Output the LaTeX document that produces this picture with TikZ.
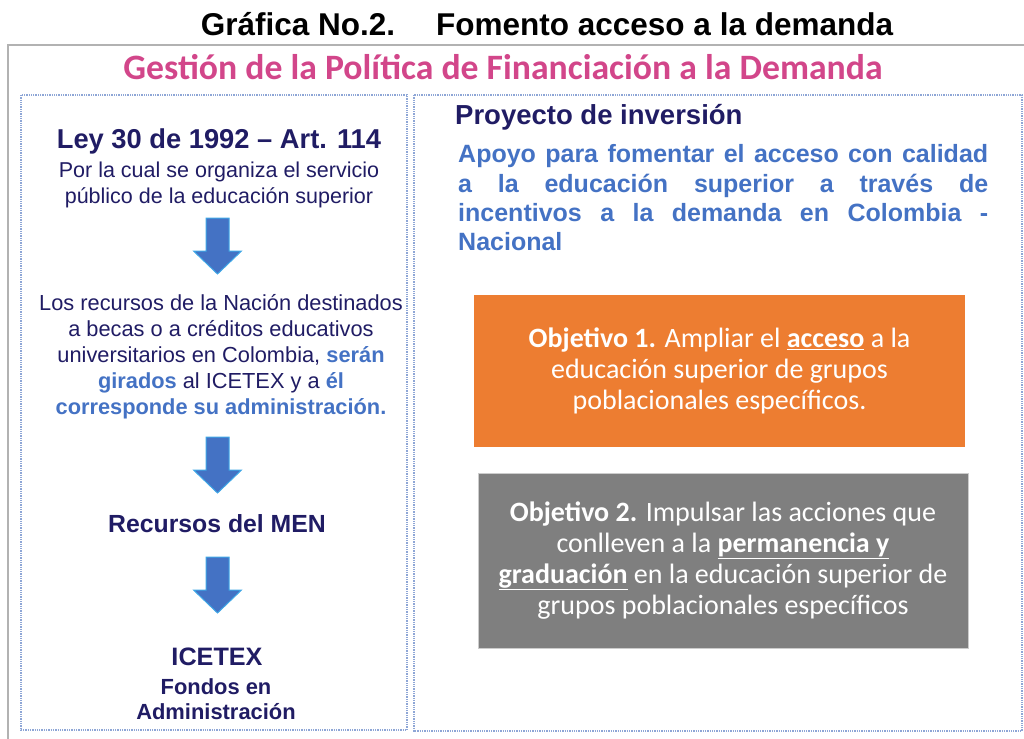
\documentclass[tikz,border=0pt]{standalone}
\usepackage{fontspec}
\setmainfont{Liberation Sans}
\newfontfamily\calibri{Carlito}
\usetikzlibrary{positioning}

\definecolor{navy}{HTML}{201C64}
\definecolor{azul}{HTML}{4472C4}
\definecolor{rosa}{HTML}{D2468A}
\definecolor{naranja}{HTML}{ED7D31}
\definecolor{gris}{HTML}{7F7F7F}
\definecolor{punteado}{HTML}{8EA6D6}
\definecolor{borde}{HTML}{3EA7E6}

% flecha de bloque, #1 = punto superior central
\newcommand{\flecha}[1]{\filldraw[bloque] (#1) ++(-11.5,0) -- ++(23,0) -- ++(0,33) -- ++(12.5,0) -- ++(-24,23) -- ++(-24,-23) -- ++(12.5,0) -- cycle;}

\begin{document}
\begin{tikzpicture}[x=1pt,y=-1pt,
		caja/.style={draw=punteado,densely dotted,line width=1.3pt},
		bloque/.style={fill=azul,draw=borde,line width=1pt},
		txt/.style={inner sep=0pt,align=center,text=navy},
		obj/.style={inner sep=0pt,align=center,text=white,font=\calibri\fontsize{28}{30.8}\selectfont}]
		\useasboundingbox (0,0) rectangle (1024,738);
		% marco exterior
		\draw[gray!60,line width=2.5pt] (8,760) -- (8,45) -- (1040,45);
		\node[inner sep=0pt,font=\bfseries\fontsize{31.5}{34}\selectfont] (titulo) at (547,24) {Gráfica No.2.\hspace{1.3em}Fomento acceso a la demanda};
		\node[inner sep=0pt,text=rosa,font=\calibri\bfseries\fontsize{35.7}{40}\selectfont] (gestion) at (503,67) {Gestión de la Política de Financiación a la Demanda};
		\draw[caja] (21,95) rectangle (407,730);
		\draw[caja] (414,95) rectangle (1022,731);
		% columna izquierda
		\node[txt,font=\bfseries\fontsize{27.3}{30}\selectfont] (ley) at (219,141) {Ley 30 de 1992 -- Art. 114};
		\node[txt,font=\fontsize{21.5}{25.5}\selectfont] (organiza) at (219,185) {Por la cual se organiza el servicio\\público de la educación superior};
		\coordinate (a1) at (217.5,218);
		\node[txt,font=\fontsize{21.8}{26}\selectfont] (recursos) at (221,357) {Los recursos de la Nación destinados\\a becas o a créditos educativos\\universitarios en Colombia, \textcolor{azul}{\textbf{serán}}\\\textcolor{azul}{\textbf{girados}} al ICETEX y a \textcolor{azul}{\textbf{él}}\\\textcolor{azul}{\textbf{corresponde su administración.}}};
		\coordinate (a2) at (217.5,437);
		\node[txt,font=\bfseries\fontsize{24.8}{28}\selectfont] (men) at (217,524) {Recursos del MEN};
		\coordinate (a3) at (217.5,557);
		\node[txt,font=\bfseries\fontsize{25.2}{28}\selectfont] (icetex) at (217,657) {ICETEX};
		\node[txt,font=\bfseries\fontsize{21.9}{25.5}\selectfont] (fondos) at (216,699) {Fondos en\\Administración};
		\flecha{a1}
		\flecha{a2}
		\flecha{a3}
		% columna derecha
		\node[txt,anchor=west,font=\bfseries\fontsize{27.5}{30}\selectfont] (proyecto) at (455,117) {Proyecto de inversión};
		\node[inner sep=0pt,anchor=north west,text=azul,text width=530pt,align=justify,font=\bfseries\fontsize{25}{29.3}\selectfont] (apoyo) at (458,144.5) {Apoyo para fomentar el acceso con calidad\linebreak a la educación superior a través de\linebreak incentivos a la demanda en Colombia -\linebreak Nacional};
		\node[fill=naranja,minimum width=491pt,minimum height=152pt,inner sep=0pt] (obj1) at (719.5,371) {};
		\node[obj] (txt1) at (obj1) {\textbf{Objetivo 1.} Ampliar el \underline{\textbf{acceso}} a la\\educación superior de grupos\\poblacionales específicos.};
		\node[fill=gris,draw=gray!40,minimum width=490pt,minimum height=175pt,inner sep=0pt] (obj2) at (723,560.5) {};
		\node[obj] (txt2) at (obj2) {\textbf{Objetivo 2.} Impulsar las acciones que\\conlleven a la \underline{\textbf{permanencia y}}\\\underline{\textbf{graduación}} en la educación superior de\\grupos poblacionales específicos};
\end{tikzpicture}
\end{document}
